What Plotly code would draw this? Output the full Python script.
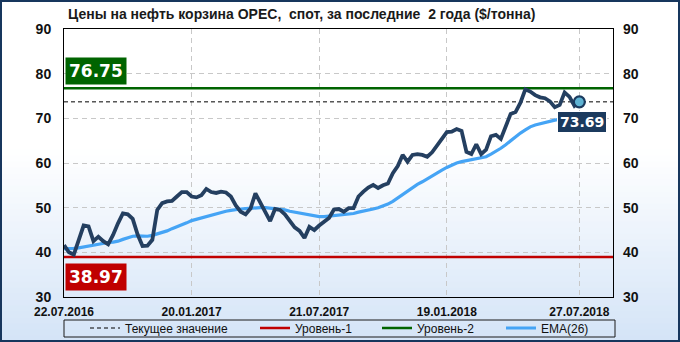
import plotly.graph_objects as go
import pandas as pd

title_text = "Цены на нефть корзина OPEC,  спот, за последние  2 года ($/тонна)"
start_date = "2016-07-22"
n_weeks = 106
x_end = "2018-09-13"

price = [41.6, 40.0, 39.5, 42.5, 46.0, 45.8, 42.5, 43.5, 42.5, 41.8,
         43.9, 46.5, 48.7, 48.5, 47.5, 44.0, 41.4, 41.5, 42.8, 49.5,
         51.0, 51.4, 51.5, 52.5, 53.5, 53.5, 52.5, 52.3, 52.8, 54.2,
         53.5, 53.3, 53.6, 53.4, 52.5, 50.5, 49.1, 48.5, 49.8, 53.2,
         51.0, 49.0, 47.0, 49.7, 49.5, 48.5, 47.0, 45.6, 44.8, 43.2,
         45.7, 45.0, 46.0, 46.8, 47.7, 49.6, 49.7, 49.1, 49.9, 49.9,
         52.5, 53.6, 54.5, 55.1, 54.4, 55.0, 55.4, 57.7, 59.3, 61.8,
         60.3, 61.8, 62.0, 61.8, 61.4, 62.4, 64.0, 65.3, 66.9, 67.0,
         67.6, 67.2, 62.5, 62.0, 64.2, 62.0, 63.0, 66.0, 66.3, 65.4,
         68.0, 71.0, 71.4, 73.5, 76.5, 76.0, 75.2, 74.7, 74.5, 73.8,
         72.5, 73.0, 75.8, 74.8, 72.8, 73.69]

ema26 = [40.8, 40.8, 40.9, 41.0, 41.2, 41.5, 41.7, 41.9, 42.1, 42.2,
         42.3, 42.5, 42.9, 43.3, 43.6, 43.7, 43.6, 43.6, 43.8, 44.1,
         44.5, 44.8, 45.3, 45.7, 46.2, 46.6, 47.1, 47.4, 47.7, 48.0,
         48.4, 48.7, 49.0, 49.2, 49.4, 49.6, 49.7, 49.8, 49.9, 50.0,
         50.0, 50.0, 49.9, 49.8, 49.7, 49.5, 49.2, 49.0, 48.7, 48.5,
         48.3, 48.2, 48.0, 48.0, 48.1, 48.2, 48.3, 48.4, 48.5, 48.7,
         49.0, 49.2, 49.4, 49.7, 50.0, 50.4, 50.8, 51.4, 52.2, 53.0,
         53.8, 54.5, 55.2, 55.8, 56.5, 57.2, 57.8, 58.4, 59.0, 59.5,
         60.0, 60.3, 60.5, 60.7, 61.0, 61.2, 61.4, 62.0, 62.6, 63.3,
         64.1, 65.0, 65.9, 66.7, 67.4, 68.1, 68.5, 68.8, 69.1, 69.4,
         69.6, 69.8, 70.1, 70.3, 70.6, 70.8]

level1 = 38.97
level2 = 76.75
current = 73.69

tick_dates = ["2016-07-22", "2017-01-20", "2017-07-21", "2018-01-19", "2018-07-27"]
tick_text = ["22.07.2016", "20.01.2017", "21.07.2017", "19.01.2018", "27.07.2018"]
y_ticks = [30, 40, 50, 60, 70, 80, 90]

legend_names = ["Текущее значение", "Уровень-1", "Уровень-2", "EMA(26)"]

dates = pd.date_range(start_date, periods=n_weeks, freq="7D")

W, H = 680, 342
ML, MR, MT, MB = 64, 67, 29, 45
PW = W - ML - MR
PH = H - MT - MB


def px_x(p):
    return (p - ML) / PW


def px_y(p):
    return (H - MB - p) / PH


C_PRICE = "#243f60"
C_EMA = "#45a4f5"
C_RED = "#c00000"
C_GREEN = "#006400"
C_NAVY = "#1b3a5e"
FONT = "Liberation Sans, Arial, sans-serif"

fig = go.Figure()

span = [start_date, x_end]

fig.add_trace(go.Scatter(x=span, y=[current, current], mode="lines",
                         line=dict(color="black", width=1, dash="4px,3px"),
                         name=legend_names[0], legend="legend", hoverinfo="skip"))
fig.add_trace(go.Scatter(x=span, y=[level1, level1], mode="lines",
                         line=dict(color=C_RED, width=2.5),
                         name=legend_names[1], legend="legend2", hoverinfo="skip"))
fig.add_trace(go.Scatter(x=span, y=[level2, level2], mode="lines",
                         line=dict(color=C_GREEN, width=2.5),
                         name=legend_names[2], legend="legend3", hoverinfo="skip"))
fig.add_trace(go.Scatter(x=dates, y=ema26, mode="lines",
                         line=dict(color=C_EMA, width=3.2),
                         name=legend_names[3], legend="legend4"))
fig.add_trace(go.Scatter(x=dates, y=price, mode="lines",
                         line=dict(color=C_PRICE, width=3.8),
                         showlegend=False, name="OPEC"))
fig.add_trace(go.Scatter(x=[dates[-1]], y=[price[-1]], mode="markers",
                         marker=dict(size=11, color="#5fb3d3",
                                     line=dict(color=C_NAVY, width=2.2)),
                         showlegend=False, hoverinfo="skip"))
# dummy trace so the right-hand axis is drawn
fig.add_trace(go.Scatter(x=[dates[0]], y=[None], yaxis="y2", mode="lines",
                         showlegend=False, hoverinfo="skip"))

shapes = []
# background gradient
top_px, bot_px = 150, H
nstrip = 32
c0 = (255, 255, 255)
c1 = (212, 228, 247)
for k in range(nstrip):
    y0p = top_px + (bot_px - top_px) * k / nstrip
    y1p = top_px + (bot_px - top_px) * (k + 1) / nstrip
    t = (k + 0.5) / nstrip
    col = tuple(int(round(c0[j] + (c1[j] - c0[j]) * t)) for j in range(3))
    shapes.append(dict(type="rect", xref="paper", yref="paper",
                       x0=px_x(0), x1=px_x(W), y0=px_y(y1p), y1=px_y(y0p) + 0.002,
                       fillcolor="rgb(%d,%d,%d)" % col, line=dict(width=0),
                       layer="below"))
# legend box
shapes.append(dict(type="rect", xref="paper", yref="paper",
                   x0=0, x1=px_x(615), y0=px_y(337), y1=px_y(320),
                   line=dict(color="#1a1a1a", width=1), fillcolor="rgba(0,0,0,0)",
                   layer="above"))
# outer border
shapes.append(dict(type="rect", xref="paper", yref="paper",
                   x0=px_x(1), x1=px_x(W - 1), y0=px_y(H - 1), y1=px_y(1),
                   line=dict(color="#17365d", width=2), fillcolor="rgba(0,0,0,0)",
                   layer="above"))

annotations = [
    dict(text="<b>" + title_text + "</b>", xref="paper", yref="paper",
         x=px_x(66), y=px_y(14), xanchor="left", yanchor="middle",
         showarrow=False, font=dict(family=FONT, size=14, color="#1a1a1a")),
    dict(text="<b>%.2f</b>" % level2, xref="paper", yref="y",
         x=px_x(65), y=level2, xanchor="left", yanchor="bottom", yshift=3,
         showarrow=False, bgcolor=C_GREEN, borderpad=3,
         font=dict(family="DejaVu Sans, sans-serif", size=17, color="white")),
    dict(text="<b>%.2f</b>" % level1, xref="paper", yref="y",
         x=px_x(65), y=level1, xanchor="left", yanchor="top", yshift=-6,
         showarrow=False, bgcolor=C_RED, borderpad=3,
         font=dict(family="DejaVu Sans, sans-serif", size=17, color="white")),
    dict(text="<b>%.2f</b>" % current, xref="x", yref="y",
         x=dates[-1], y=current, xanchor="center", yanchor="top", yshift=-9, xshift=3,
         showarrow=False, bgcolor=C_NAVY, borderpad=2, bordercolor="white", borderwidth=1,
         font=dict(family="DejaVu Sans, sans-serif", size=14, color="white")),
]

leg_common = dict(orientation="h", yanchor="middle", y=1 - 328 / H, xanchor="left",
                  xref="container", yref="container",
                  bgcolor="rgba(0,0,0,0)", borderwidth=0,
                  font=dict(family=FONT, size=12, color="#111111"))
line_starts = [90, 260, 382, 506]

fig.update_layout(
    width=W, height=H,
    margin=dict(l=ML, r=MR, t=MT, b=MB, autoexpand=False),
    paper_bgcolor="white", plot_bgcolor="rgba(0,0,0,0)",
    font=dict(family=FONT),
    shapes=shapes, annotations=annotations,
    legend=dict(x=(line_starts[0] - 5) / W, **leg_common),
    legend2=dict(x=(line_starts[1] - 5) / W, **leg_common),
    legend3=dict(x=(line_starts[2] - 5) / W, **leg_common),
    legend4=dict(x=(line_starts[3] - 5) / W, **leg_common),
    xaxis=dict(type="date", range=span, tickvals=tick_dates, ticktext=tick_text,
               showgrid=True, gridcolor="#c8c8c8", griddash="5px,4px", gridwidth=1,
               showline=True, linecolor="black", linewidth=1, mirror=True,
               ticks="", ticklabelstandoff=4,
               tickfont=dict(family=FONT, size=12, color="#111111", weight="bold"),
               zeroline=False),
    yaxis=dict(range=[30, 90], tickvals=y_ticks,
               showgrid=True, gridcolor="#c8c8c8", griddash="5px,4px", gridwidth=1,
               showline=True, linecolor="black", linewidth=1, mirror=True,
               ticks="", ticklabelstandoff=9,
               tickfont=dict(family=FONT, size=14, color="#111111", weight="bold"),
               zeroline=False),
    yaxis2=dict(range=[30, 90], tickvals=y_ticks, overlaying="y", side="right",
                showgrid=False, showline=False, ticks="", ticklabelstandoff=9,
                tickfont=dict(family=FONT, size=14, color="#111111", weight="bold"),
                zeroline=False),
    showlegend=True,
)

fig.write_html("out.html")
